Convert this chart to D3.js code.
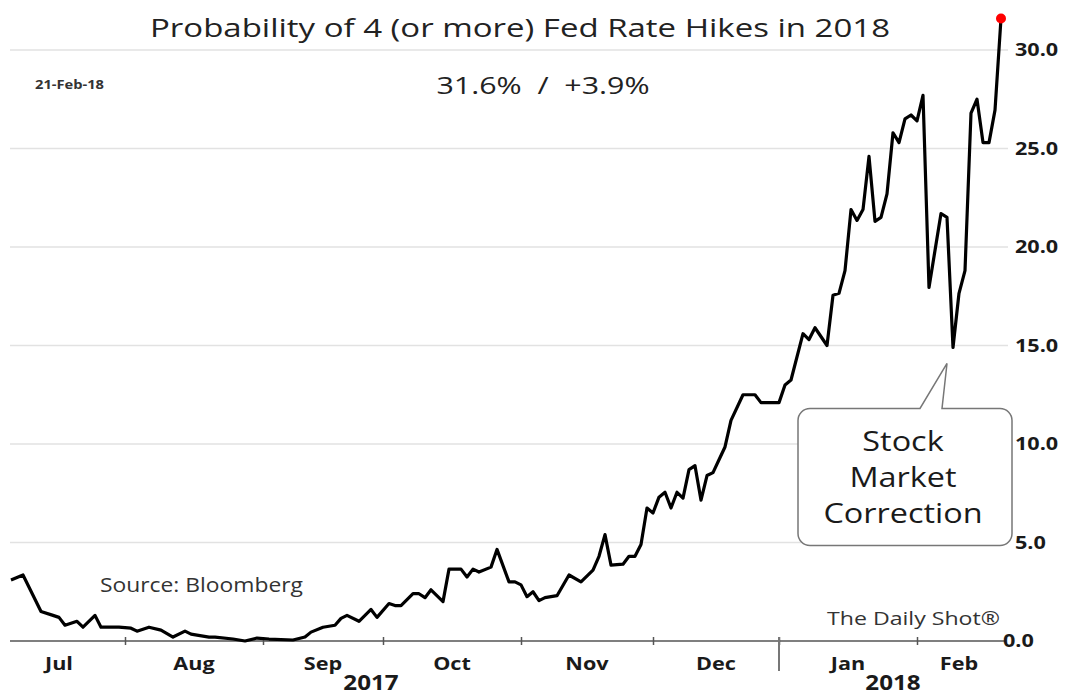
<!DOCTYPE html>
<meta charset="utf-8">
<head>
  <title>Probability of 4 (or more) Fed Rate Hikes in 2018</title>
</head>

<style>
body { margin: 0; background: #fff; }
text { font-family: "Open Sans", sans-serif; fill: #222; }
.grid line { stroke: #e2e2e2; stroke-width: 1.5; }
.xaxis path, .xaxis line { stroke: #555; stroke-width: 1.5; }
.yaxis path, .yaxis line { display: none; }
.yaxis text, .month, .year { font-weight: bold; fill: #1a1a1a; }
</style>

<body>
  <svg width="1065" height="695"></svg>

  <script src="https://cdnjs.cloudflare.com/ajax/libs/d3/7.8.5/d3.min.js"></script>
  <script>

// trading-day index (0 = start of July 2017) and probability
var tradingDay = [0, 2, 5, 7, 8, 9, 11, 12, 14, 15, 18, 20, 21, 23, 25, 27, 29, 30, 33, 34,
  37, 39, 41, 43, 47, 49, 50, 52, 54, 55, 56, 58, 60, 61, 63, 64, 65, 67, 68, 69,
  70, 72, 73, 75, 76, 77, 78, 80, 81, 83, 84, 85, 86, 87, 88, 89, 91, 93, 95, 97,
  98, 99, 100, 102, 103, 104, 105, 106, 107, 108, 109, 110, 111, 112, 113, 114, 115, 116, 117, 118,
  119, 120, 122, 124, 125, 128, 129, 130, 132, 133, 134, 136, 137, 138, 139, 140, 141, 142, 143, 144,
  145, 146, 147, 148, 149, 150, 151, 152, 153, 155, 156, 157, 158, 159, 160, 161, 162, 163, 164, 165];

var probability = [3.1, 3.35, 1.5, 1.3, 1.2, 0.8, 1.0, 0.7, 1.3, 0.7, 0.7, 0.65, 0.5, 0.7, 0.55, 0.2, 0.5, 0.35, 0.2, 0.2,
  0.1, 0.0, 0.15, 0.1, 0.05, 0.2, 0.45, 0.7, 0.8, 1.15, 1.3, 1.0, 1.6, 1.2, 1.9, 1.8, 1.8, 2.4, 2.4, 2.2,
  2.6, 2.0, 3.65, 3.65, 3.25, 3.65, 3.5, 3.75, 4.65, 3.0, 3.0, 2.85, 2.25, 2.5, 2.05, 2.2, 2.3, 3.35, 3.0, 3.6,
  4.3, 5.4, 3.85, 3.9, 4.3, 4.3, 4.9, 6.75, 6.5, 7.3, 7.55, 6.75, 7.55, 7.25, 8.7, 8.9, 7.15, 8.4, 8.55, 9.2,
  9.85, 11.2, 12.5, 12.5, 12.1, 12.1, 13.0, 13.25, 15.6, 15.3, 15.9, 15.0, 17.55, 17.65, 18.8, 21.9, 21.35, 21.9, 24.6, 21.3,
  21.5, 22.7, 25.8, 25.3, 26.5, 26.7, 26.4, 27.7, 17.95, 21.7, 21.5, 14.9, 17.65, 18.8, 26.8, 27.5, 25.3, 25.3, 26.95, 31.6];

// month boundaries (trading-day index) and labels
var monthStart = [19, 42, 62, 85, 107, 128, 151];
var monthNames = ["Jul", "Aug", "Sep", "Oct", "Nov", "Dec", "Jan", "Feb"];
var monthMid = [8, 30.5, 52, 73.5, 96, 117.5, 139.5, 158];
var yearNames = ["2017", "2018"];
var yearMid = [60, 147];
var yearBreak = 128;

var yTicks = [0, 5, 10, 15, 20, 25, 30];

const svg = d3.select('svg');

// horizontally stretch text like the source picture (factor, or a target width)
function widen(sel, k, w) {
  sel.each(function() {
    var len = w || this.getComputedTextLength() * (k || 1.15);
    d3.select(this).attr('textLength', len).attr('lengthAdjust', 'spacingAndGlyphs');
  });
}

const x = d3.scaleLinear().domain([0, 165]).range([11, 1001]);
const y = d3.scaleLinear().domain([0, 30]).range([641, 50]);

// gridlines
svg.append('g').attr('class', 'grid')
  .selectAll('line')
  .data(yTicks.slice(1))
  .enter()
  .append('line')
  .attr('x1', 10).attr('x2', 1008)
  .attr('y1', d => y(d)).attr('y2', d => y(d));

// x axis with month-boundary ticks
svg.append('g').attr('class', 'xaxis')
  .attr('transform', 'translate(0,' + y(0) + ')')
  .call(d3.axisBottom(x).tickValues(monthStart).tickSize(4).tickSizeOuter(0).tickFormat(''))
  .call(g => g.select('.domain').attr('d', 'M10,0H1005'))
  .call(g => g.selectAll('.tick line').attr('y1', -4));

svg.append('line')
  .attr('x1', x(yearBreak)).attr('x2', x(yearBreak))
  .attr('y1', y(0) - 4).attr('y2', y(0) + 30)
  .attr('stroke', '#777').attr('stroke-width', 2);

svg.selectAll('.month')
  .data(monthNames)
  .enter()
  .append('text')
  .attr('class', 'month')
  .attr('x', (d, i) => x(monthMid[i]))
  .attr('y', 670)
  .attr('text-anchor', 'middle')
  .style('font-size', '18px')
  .text(d => d)
  .call(widen, 1.2);

svg.selectAll('.year')
  .data(yearNames)
  .enter()
  .append('text')
  .attr('class', 'year')
  .attr('x', (d, i) => x(yearMid[i]))
  .attr('y', 690)
  .attr('text-anchor', 'middle')
  .style('font-size', '21px')
  .text(d => d)
  .call(widen, 1.15);

// y axis on the right
svg.append('g').attr('class', 'yaxis')
  .attr('transform', 'translate(1011,0)')
  .call(d3.axisRight(y).tickValues(yTicks).tickSize(0).tickPadding(4).tickFormat(d3.format('.1f')))
  .call(g => g.selectAll('text').style('font-size', '18px').call(widen, 1.2))
  .call(g => g.selectAll('.tick').filter(d => d === 0).select('text').attr('x', -8));

// line
const line = d3.line()
  .x((d, i) => x(tradingDay[i]))
  .y(d => y(d));

svg.append('path')
  .datum(probability)
  .attr('fill', 'none')
  .attr('stroke', '#000')
  .attr('stroke-width', 3.2)
  .attr('stroke-linejoin', 'round')
  .attr('d', line);

const last = probability.length - 1;
svg.append('circle')
  .attr('cx', x(tradingDay[last]))
  .attr('cy', y(probability[last]))
  .attr('r', 5)
  .attr('fill', '#f00');

// titles
svg.append('text')
  .attr('x', 520).attr('y', 37)
  .attr('text-anchor', 'middle')
  .style('font-size', '26px')
  .text('Probability of 4 (or more) Fed Rate Hikes in 2018')
  .call(widen, null, 740);

svg.append('text')
  .attr('x', 543).attr('y', 94)
  .attr('text-anchor', 'middle')
  .style('font-size', '23px')
  .style('white-space', 'pre')
  .text('31.6%  /  +3.9%')
  .call(widen, null, 213);

svg.append('text')
  .attr('x', 35).attr('y', 89)
  .style('font-size', '12px')
  .style('font-weight', 'bold')
  .style('fill', '#333')
  .text('21-Feb-18')
  .call(widen, null, 69);

svg.append('text')
  .attr('x', 100).attr('y', 592)
  .style('font-size', '20px')
  .style('fill', '#333')
  .text('Source: Bloomberg')
  .call(widen, null, 203);

svg.append('text')
  .attr('x', 827).attr('y', 625)
  .style('font-size', '19px')
  .style('fill', '#333')
  .text('The Daily Shot\u00ae')
  .call(widen, null, 173);

// callout pointing at the correction low
const lowI = d3.minIndex(probability, (v, i) => tradingDay[i] > 140 ? v : NaN);
const tipX = x(tradingDay[lowI]) - 6, tipY = y(probability[lowI]) + 16;
const bx0 = 798, bx1 = 1012, by0 = tipY + 45, by1 = tipY + 182, r = 12;
const callout = d3.path();
callout.moveTo(bx0 + r, by0);
callout.lineTo(tipX - 27, by0);
callout.lineTo(tipX, tipY);
callout.lineTo(tipX - 5, by0);
callout.lineTo(bx1 - r, by0);
callout.arcTo(bx1, by0, bx1, by0 + r, r);
callout.lineTo(bx1, by1 - r);
callout.arcTo(bx1, by1, bx1 - r, by1, r);
callout.lineTo(bx0 + r, by1);
callout.arcTo(bx0, by1, bx0, by1 - r, r);
callout.lineTo(bx0, by0 + r);
callout.arcTo(bx0, by0, bx0 + r, by0, r);
callout.closePath();

svg.append('path')
  .attr('d', callout.toString())
  .attr('fill', '#fff')
  .attr('stroke', '#777')
  .attr('stroke-width', 1.5);

svg.selectAll('.callout')
  .data(['Stock', 'Market', 'Correction'])
  .enter()
  .append('text')
  .attr('class', 'callout')
  .attr('x', (bx0 + bx1) / 2 - 2)
  .attr('y', (d, i) => by0 + 43 + i * 36)
  .attr('text-anchor', 'middle')
  .style('font-size', '27px')
  .style('fill', '#1a1a1a')
  .text(d => d)
  .call(widen, 1.2);

  </script>
</body>
</html>
